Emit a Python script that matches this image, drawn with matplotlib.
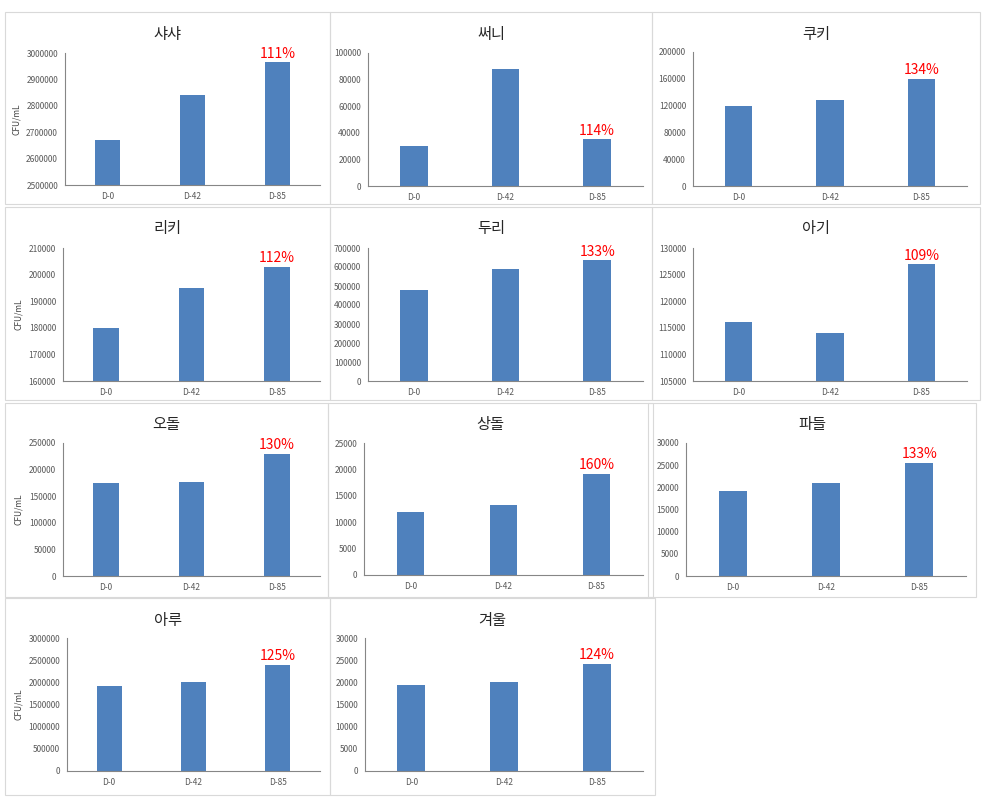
import matplotlib
matplotlib.use("Agg")
from matplotlib import pyplot as plt
from matplotlib.patches import Rectangle

plt.rcParams['font.family'] = ['Noto Sans CJK KR', 'DejaVu Sans']

days = ["D-0", "D-42", "D-85"]

names = ["샤샤", "써니", "쿠키", "리키", "두리", "아기", "오돌", "상돌", "파들", "아루", "겨울"]
sasha = [2670000, 2840000, 2965000]
sunny = [30000, 88000, 35000]
cookie = [120000, 128000, 160000]
ricky = [180000, 195000, 203000]
duri = [480000, 590000, 637000]
agi = [116000, 114000, 127000]
odol = [175000, 177000, 230000]
sangdol = [12000, 13200, 19200]
padeul = [19200, 21000, 25600]
aru = [1920000, 2000000, 2400000]
gyeoul = [19500, 20000, 24200]
series = [sasha, sunny, cookie, ricky, duri, agi, odol, sangdol, padeul, aru, gyeoul]
percents = ["111%", "114%", "134%", "112%", "133%", "109%", "130%", "160%", "133%", "125%", "124%"]
y_ranges = [(2500000, 3000000, 100000), (0, 100000, 20000), (0, 200000, 40000),
            (160000, 210000, 10000), (0, 700000, 100000), (105000, 130000, 5000),
            (0, 250000, 50000), (0, 25000, 5000), (0, 30000, 5000),
            (0, 3000000, 500000), (0, 30000, 5000)]
show_ylabel = [True, False, False, True, False, False, True, False, False, True, False]

W, H = 988, 807

# panel boxes (left, top, right, bottom) and axes boxes in pixels
panels = [(5, 12, 330, 204), (330, 12, 652, 204), (652, 12, 980, 204),
          (5, 207, 330, 400), (330, 207, 652, 400), (652, 207, 980, 400),
          (5, 403, 328, 597), (328, 403, 653, 597), (648, 403, 976, 597),
          (5, 598, 330, 795), (330, 598, 655, 795)]
axes_px = [(65, 53, 320, 185), (368, 53, 643, 186), (693, 52, 967, 186),
           (63, 248, 320, 381), (368, 248, 643, 381), (693, 248, 967, 381),
           (63, 443, 320, 576), (364, 443, 643, 575), (686, 443, 966, 576),
           (67, 638, 320, 771), (365, 638, 643, 771)]

bar_color = "#4F81BD"
axis_color = "#868686"
text_color = "#595959"

fig = plt.figure(figsize=(W / 100, H / 100), dpi=100)

for i in range(len(names)):
    pl, pt, pr, pb = panels[i]
    fig.patches.append(Rectangle((pl / W, 1 - pb / H), (pr - pl) / W, (pb - pt) / H,
                                 transform=fig.transFigure, fill=False,
                                 edgecolor="#D9D9D9", linewidth=0.8))
    l, t, r, b = axes_px[i]
    ax = fig.add_axes([l / W, 1 - b / H, (r - l) / W, (b - t) / H])
    ax.bar(range(3), series[i], width=0.3, color=bar_color)
    lo, hi, step = y_ranges[i]
    ticks = list(range(lo, hi + 1, step))
    ax.set_ylim(lo, hi)
    ax.set_yticks(ticks)
    ax.set_yticklabels([str(v) for v in ticks])
    ax.set_xlim(-0.5, 2.5)
    ax.set_xticks(range(3))
    ax.set_xticklabels(days)
    ax.tick_params(length=0, labelsize=6, colors=text_color, pad=5)
    for side in ["top", "right"]:
        ax.spines[side].set_visible(False)
    for side in ["left", "bottom"]:
        ax.spines[side].set_color(axis_color)
        ax.spines[side].set_linewidth(0.8)
    if show_ylabel[i]:
        ax.set_ylabel("CFU/mL", fontsize=6, color="#404040", labelpad=4)
    ax.annotate(percents[i], (2, series[i][2]), xytext=(0, 1), textcoords="offset points",
                ha="center", va="bottom", color="#FF0000", fontsize=10)
    fig.text((pl + pr) / 2 / W, 1 - (pt + 22) / H, names[i], ha="center", va="center",
             fontsize=11, color="#262626")

fig.savefig("out.png", dpi=100)
